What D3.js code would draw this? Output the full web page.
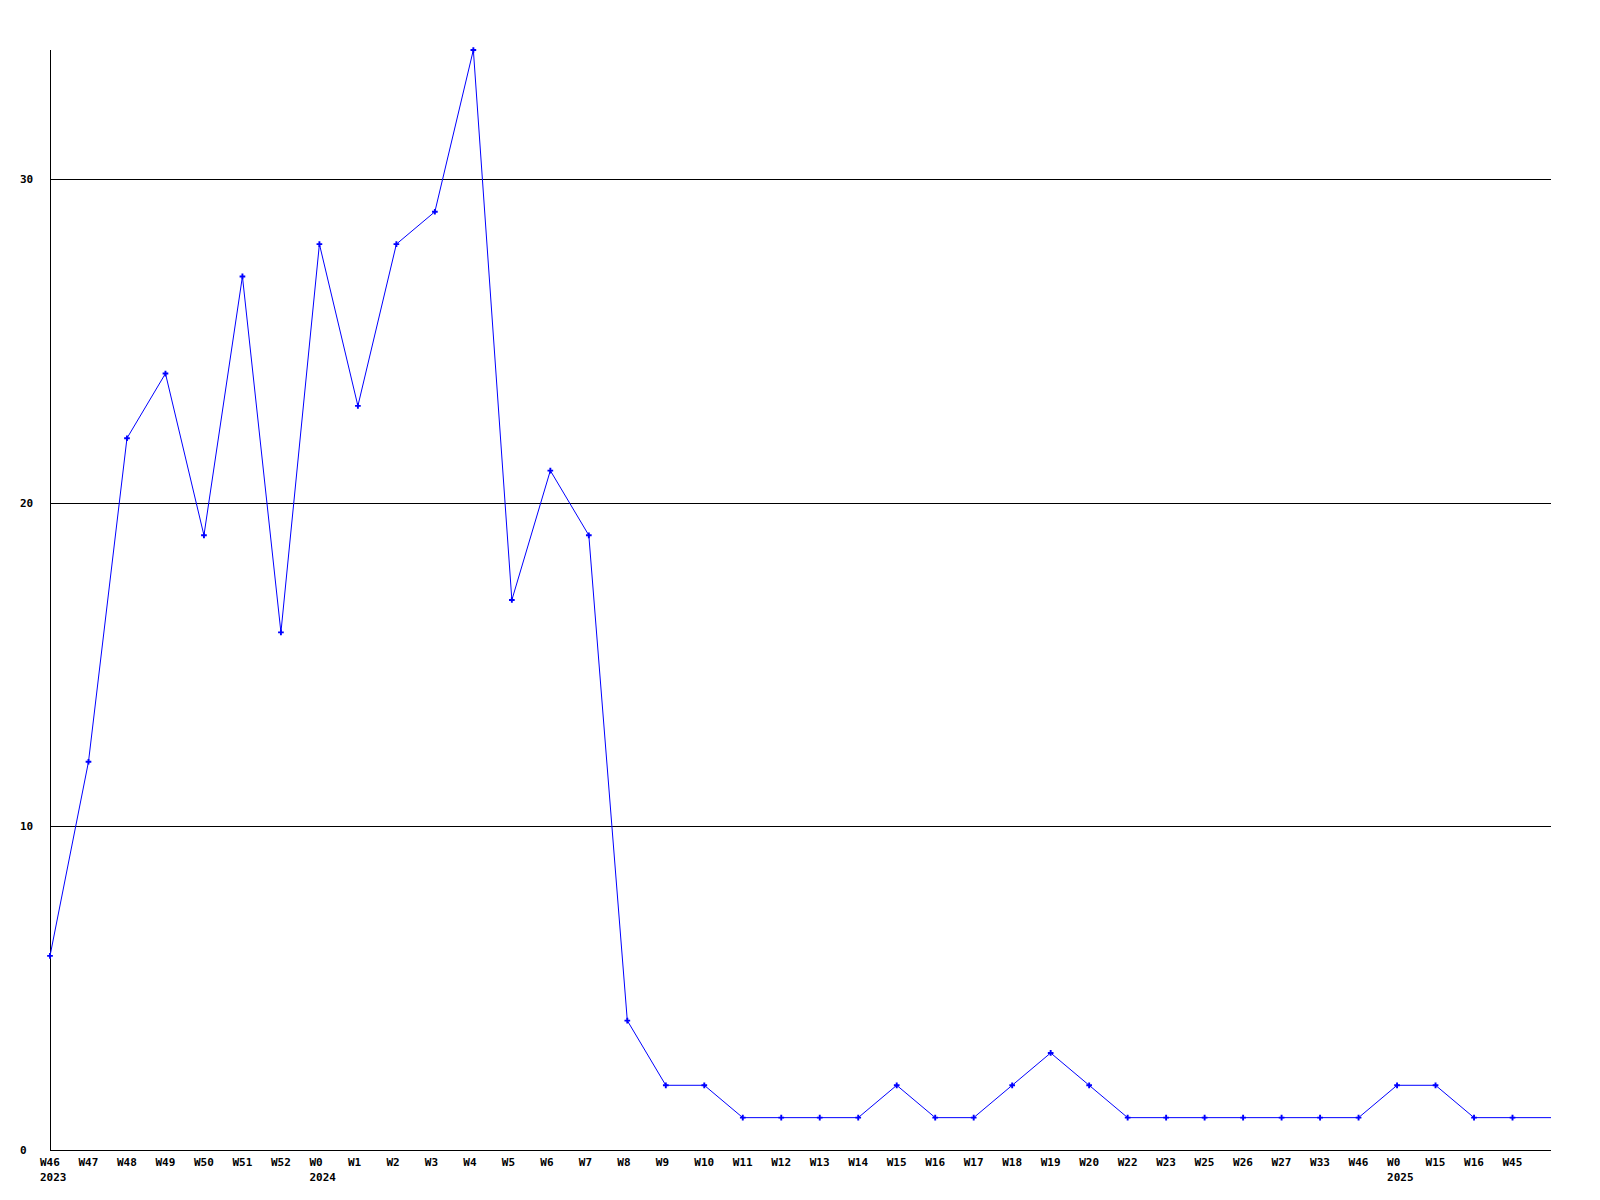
<!DOCTYPE html>
<html>
<head>
<meta charset="utf-8">
<script src="https://cdn.jsdelivr.net/npm/d3@7"></script>
<style>
  body { margin: 0; background: #fff; }
  text { font-family: "DejaVu Sans Mono", monospace; font-weight: bold; font-size: 11px; fill: #000; }
</style>
</head>
<body>
<script>
// semanas (a última posição não tem rótulo nem marcador)
const weeks = ['W46','W47','W48','W49','W50','W51','W52',
  'W0','W1','W2','W3','W4','W5','W6','W7','W8','W9','W10','W11','W12','W13','W14',
  'W15','W16','W17','W18','W19','W20','W22','W23','W25','W26','W27','W33','W46',
  'W0','W15','W16','W45',''];
// rótulo do ano embaixo de algumas semanas
const years = {0: '2023', 7: '2024', 35: '2025'};
const values = [6,12,22,24,19,27,16,
  28,23,28,29,34,17,21,19,4,2,2,1,1,1,1,
  2,1,1,2,3,2,1,1,1,1,1,1,1,
  2,2,1,1,1];
const yTicks = [0, 10, 20, 30];

const width = 1600, height = 1200;
const plotLeft = 50, plotRight = 1551, plotTop = 50, plotBottom = 1150;

const svg = d3.select('body').append('svg')
  .attr('width', width)
  .attr('height', height);

const x = d3.scaleLinear().domain([0, weeks.length - 1]).range([plotLeft, plotRight]);
const y = d3.scaleLinear().domain([0, 34]).range([plotBottom, plotTop]);

// linhas de grade
svg.append('g').selectAll('line')
  .data(yTicks.filter(d => d > 0))
  .enter().append('line')
  .attr('x1', plotLeft).attr('x2', plotRight)
  .attr('y1', d => Math.round(y(d)) + 0.5).attr('y2', d => Math.round(y(d)) + 0.5)
  .attr('stroke', '#000').attr('stroke-width', 1);

// eixos
svg.append('line')
  .attr('x1', plotLeft + 0.5).attr('x2', plotLeft + 0.5)
  .attr('y1', plotTop).attr('y2', plotBottom + 0.5)
  .attr('stroke', '#000');
svg.append('line')
  .attr('x1', plotLeft).attr('x2', plotRight)
  .attr('y1', plotBottom + 0.5).attr('y2', plotBottom + 0.5)
  .attr('stroke', '#000');

// rótulos do eixo y
svg.append('g').selectAll('text')
  .data(yTicks)
  .enter().append('text')
  .attr('x', 20)
  .attr('y', d => y(d))
  .attr('dy', '0.35em')
  .text(d => d);

// rótulos do eixo x (alinhados à esquerda, 10px antes do ponto)
const xl = svg.append('g');
weeks.forEach(function(w, i) {
  if (!w) return;
  xl.append('text')
    .attr('x', x(i) - 10)
    .attr('y', 1162)
    .attr('dy', '0.35em')
    .text(w);
  if (years[i]) {
    xl.append('text')
      .attr('x', x(i) - 10)
      .attr('y', 1177)
      .attr('dy', '0.35em')
      .text(years[i]);
  }
});

// série
const line = d3.line()
  .x((d, i) => x(i))
  .y(d => y(d));

svg.append('path')
  .datum(values)
  .attr('d', line)
  .attr('fill', 'none')
  .attr('stroke', '#0000ff')
  .attr('stroke-width', 1);

svg.append('g').selectAll('path')
  .data(values.map((v, i) => ({ v: v, i: i })).filter(d => weeks[d.i]))
  .enter().append('path')
  .attr('d', d3.symbol().type(d3.symbolCross).size(18))
  .attr('transform', d => 'translate(' + x(d.i) + ',' + y(d.v) + ')')
  .attr('fill', '#0000ff');
</script>
</body>
</html>
